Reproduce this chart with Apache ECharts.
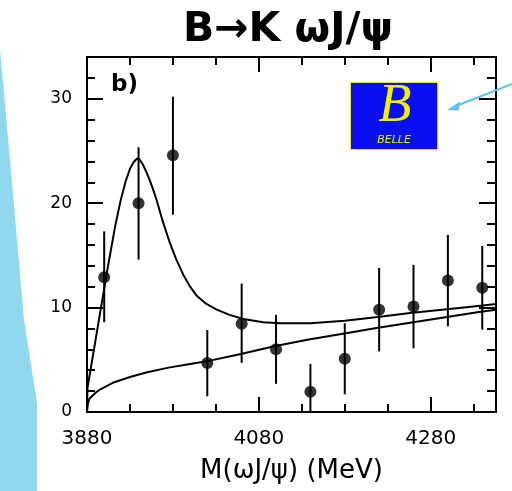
<!DOCTYPE html>
<html>
<head>
<meta charset="utf-8">
<script src="https://cdn.jsdelivr.net/npm/echarts@6/dist/echarts.min.js"></script>
<style>
html,body{margin:0;padding:0;background:#ffffff;}
#chart{width:512px;height:491px;}
</style>
</head>
<body>
<div id="chart"></div>
<script>
// ---- data (MeV, events per bin) ----
const massMin = 3880;
const massMax = 4356;
const massBins = [3900, 3940, 3980, 4020, 4060, 4100, 4140, 4180, 4220, 4260, 4300, 4340];
const events   = [12.9, 20.0, 24.6, 4.7, 8.45, 6.0, 1.95, 5.1, 9.8, 10.1, 12.6, 11.9];
const errLow   = [8.6, 14.6, 18.9, 1.5, 4.7, 2.7, 0.0, 1.7, 5.8, 6.1, 8.2, 7.9];
const errHigh  = [17.3, 25.35, 30.2, 7.85, 12.3, 9.3, 4.6, 8.5, 13.8, 14.1, 16.95, 15.9];

const fitMass  = [3880, 3880.5, 3884, 3888, 3892, 3896, 3900, 3904, 3908, 3913, 3919, 3925, 3930, 3934, 3938, 3941, 3945, 3949, 3953, 3957, 3961, 3968, 3976, 3984, 3992, 4000, 4008, 4019, 4031, 4046, 4062, 4085, 4105, 4140, 4180, 4221, 4256, 4299, 4338, 4356];
const fitTotal = [0, 2.3, 4.0, 5.95, 7.9, 9.85, 11.8, 13.75, 15.6, 17.9, 20.2, 22.1, 23.3, 23.9, 24.25, 24.2, 23.7, 23.0, 22.2, 21.3, 20.3, 18.3, 16.3, 14.6, 13.15, 12.0, 11.1, 10.35, 9.8, 9.3, 8.9, 8.6, 8.5, 8.5, 8.75, 9.13, 9.48, 9.84, 10.18, 10.34];

const bkgMass   = [3880, 3881, 3883, 3890, 3895, 3910, 3930, 3950, 3975, 4000, 4019, 4059, 4098, 4138, 4178, 4217, 4256, 4299, 4338, 4356];
const bkgValues = [0, 0.8, 1.3, 1.85, 2.15, 2.8, 3.35, 3.8, 4.25, 4.6, 4.85, 5.55, 6.3, 6.95, 7.5, 8.05, 8.55, 9.1, 9.6, 9.8];

const yMax = 34;
const xMajorTicks = [3880, 4080, 4280];
const yMajorTicks = [0, 10, 20, 30];

const titleText = 'B\u2192K \u03c9J/\u03c8';
const xAxisName = 'M(\u03c9J/\u03c8) (MeV)';
const panelLabel = 'b)';

// ---- build ----
const off = m => m - massMin;
const pts = events.map((v, i) => [off(massBins[i]), v]);
const bars = massBins.map((m, i) => [off(m), errLow[i], errHigh[i]]);
const fitData = fitMass.map((m, i) => [off(m), fitTotal[i]]);
const bkgData = bkgMass.map((m, i) => [off(m), bkgValues[i]]);

const FONT = 'DejaVu Sans';
const base = { min: 0, max: massMax - massMin, splitLine: { show: false } };
const axLine = { show: true, onZero: false, lineStyle: { color: '#000', width: 2 } };
const noLine = { show: false, onZero: false };

const xAxes = [
  Object.assign({}, base, {
    type: 'value', position: 'bottom', interval: 200,
    axisLine: axLine,
    axisTick: { inside: true, length: 15, lineStyle: { color: '#000', width: 2 } },
    axisLabel: {
      margin: 17, color: '#000', fontFamily: FONT, fontSize: 20,
      formatter: v => (xMajorTicks.indexOf(v + massMin) >= 0 ? String(v + massMin) : '')
    },
    name: xAxisName, nameLocation: 'middle', nameGap: 46,
    nameTextStyle: { color: '#000', fontFamily: FONT, fontSize: 26 }
  }),
  Object.assign({}, base, {
    type: 'value', position: 'bottom', interval: 50,
    axisLine: noLine,
    axisTick: { inside: true, length: 8, lineStyle: { color: '#000', width: 2 } },
    axisLabel: { show: false }
  }),
  Object.assign({}, base, {
    type: 'value', position: 'top', interval: 200,
    axisLine: axLine,
    axisTick: { inside: true, length: 15, lineStyle: { color: '#000', width: 2 } },
    axisLabel: { show: false }
  }),
  Object.assign({}, base, {
    type: 'value', position: 'top', interval: 50,
    axisLine: noLine,
    axisTick: { inside: true, length: 8, lineStyle: { color: '#000', width: 2 } },
    axisLabel: { show: false }
  })
];

const ybase = { min: 0, max: yMax, splitLine: { show: false } };
const yAxes = [
  Object.assign({}, ybase, {
    type: 'value', position: 'left', interval: 10,
    axisLine: axLine,
    axisTick: { inside: true, length: 16, lineStyle: { color: '#000', width: 2 } },
    axisLabel: {
      margin: 15, color: '#000', fontFamily: FONT, fontSize: 17,
      formatter: v => (yMajorTicks.indexOf(v) >= 0 ? String(v) : '')
    }
  }),
  Object.assign({}, ybase, {
    type: 'value', position: 'left', interval: 2,
    axisLine: noLine,
    axisTick: { inside: true, length: 8, lineStyle: { color: '#000', width: 2 } },
    axisLabel: { show: false }
  }),
  Object.assign({}, ybase, {
    type: 'value', position: 'right', interval: 10,
    axisLine: axLine,
    axisTick: { inside: true, length: 17, lineStyle: { color: '#000', width: 2 } },
    axisLabel: { show: false }
  }),
  Object.assign({}, ybase, {
    type: 'value', position: 'right', interval: 2,
    axisLine: noLine,
    axisTick: { inside: true, length: 9, lineStyle: { color: '#000', width: 2 } },
    axisLabel: { show: false }
  })
];

const chart = echarts.init(document.getElementById('chart'), null, { renderer: 'canvas' });

const option = {
  animation: false,
  backgroundColor: '#ffffff',
  title: {
    text: titleText, left: 283, top: 5, textAlign: 'center',
    textStyle: { color: '#000', fontFamily: FONT, fontWeight: 'bold', fontSize: 41 }
  },
  grid: { left: 87, right: 16, top: 57, bottom: 79, containLabel: false },
  xAxis: xAxes,
  yAxis: yAxes,
  graphic: [
    { type: 'polygon', z: -10, silent: true,
      shape: { points: [[0, 50], [10, 160], [24, 320], [37, 403], [37, 491], [0, 491]] },
      style: { fill: '#8fd8f0' } },
    { type: 'text', left: 111, top: 74, z: 10,
      style: { text: panelLabel, fill: '#000', font: 'bold 23px "DejaVu Sans"' } },
    { type: 'rect', z: 10, shape: { x: 350.5, y: 82.5, width: 87, height: 67 },
      style: { fill: '#0a0ff2', stroke: '#e8e040', lineWidth: 1 } },
    { type: 'text', z: 11, x: 395, y: 107,
      style: { text: 'B', fill: '#f0f000', font: 'italic 54px "Liberation Serif"', align: 'center', verticalAlign: 'middle' } },
    { type: 'text', z: 11, x: 394, y: 140,
      style: { text: 'BELLE', fill: '#f0f000', font: 'italic 11px "DejaVu Sans"', align: 'center', verticalAlign: 'middle' } },
    { type: 'line', z: 10, shape: { x1: 512, y1: 84, x2: 456, y2: 106 },
      style: { stroke: '#5ec2ea', lineWidth: 2 } },
    { type: 'polygon', z: 10, shape: { points: [[447, 110], [460, 101.5], [458.5, 110.5]] },
      style: { fill: '#5ec2ea' } }
  ],
  series: [
    { type: 'line', name: 'fit', data: fitData, xAxisIndex: 0, yAxisIndex: 0,
      showSymbol: false, smooth: false, lineStyle: { color: '#000', width: 2, join: 'round' }, z: 3 },
    { type: 'line', name: 'background', data: bkgData, xAxisIndex: 0, yAxisIndex: 0,
      showSymbol: false, smooth: false, lineStyle: { color: '#000', width: 2, join: 'round' }, z: 3 },
    { type: 'custom', name: 'errors', data: bars, xAxisIndex: 0, yAxisIndex: 0,
      encode: { x: 0, y: [1, 2] }, z: 4,
      renderItem: function (params, api) {
        const p1 = api.coord([api.value(0), api.value(1)]);
        const p2 = api.coord([api.value(0), api.value(2)]);
        return { type: 'line', shape: { x1: p1[0], y1: p1[1], x2: p2[0], y2: p2[1] },
          style: { stroke: '#000', lineWidth: 2 } };
      } },
    { type: 'scatter', name: 'data', data: pts, xAxisIndex: 0, yAxisIndex: 0,
      symbol: 'circle', symbolSize: 12, itemStyle: { color: '#000' }, z: 5 }
  ]
};
chart.setOption(option);
</script>
</body>
</html>
